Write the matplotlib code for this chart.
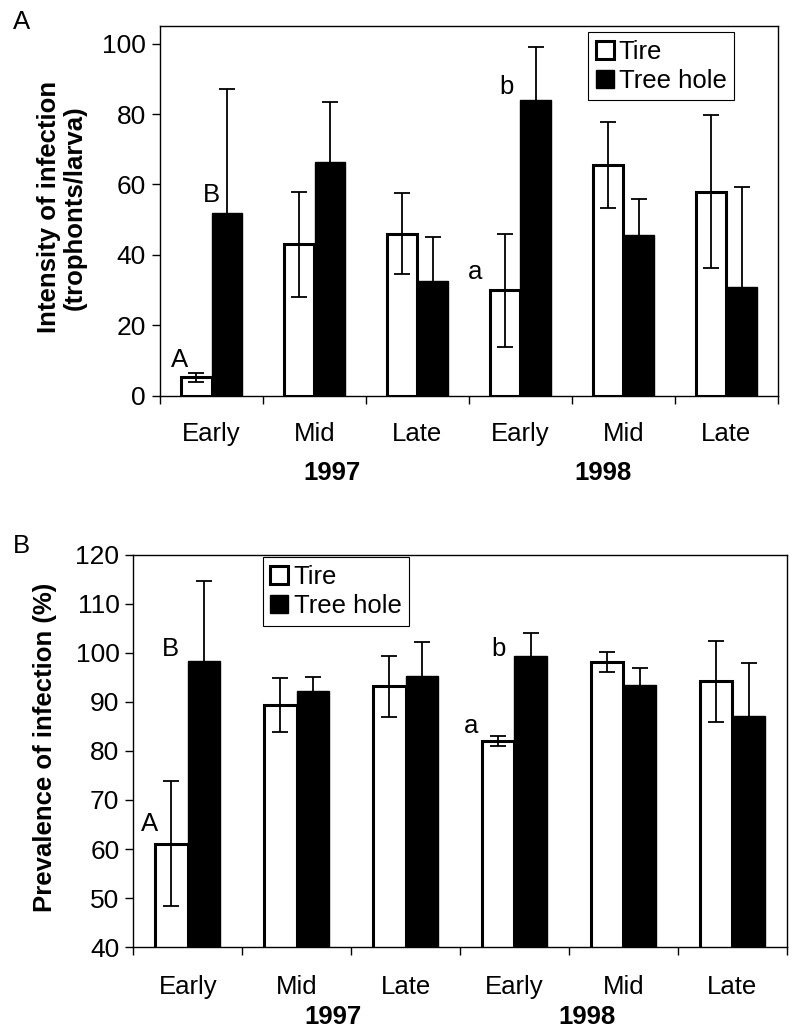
import numpy as np
import matplotlib
matplotlib.use("Agg")
import matplotlib.pyplot as plt
import matplotlib.transforms as mtransforms
from matplotlib.patches import Patch

plt.rcParams['font.family'] = ['Liberation Sans', 'DejaVu Sans']
FS = 18.5

# ─── Data ────────────────────────────────────────────────────────────────
PERIODS = ["Early", "Mid", "Late", "Early", "Mid", "Late"]
YEARS = ["1997", "1998"]
SERIES = ["Tire", "Tree hole"]

# Panel A: intensity of infection (trophonts/larva)
INT_TIRE = [5.3, 43, 46, 30, 65.5, 58]
INT_TIRE_ERR = [1.3, 15, 11.5, 16, 12.3, 21.7]
INT_TREE = [52, 66.5, 32.7, 84, 45.6, 30.8]
INT_TREE_ERR = [35, 17, 12.3, 15, 10.2, 28.5]
INT_LETTERS = ["A", "B", "a", "b"]

# Panel B: prevalence of infection (%)
PREV_TIRE = [61.1, 89.3, 93.2, 82.1, 98.2, 94.2]
PREV_TIRE_ERR = [12.7, 5.5, 6.2, 1.0, 2.0, 8.3]
PREV_TREE = [98.4, 92.2, 95.3, 99.3, 93.4, 87.2]
PREV_TREE_ERR = [16.3, 2.8, 6.9, 4.8, 3.6, 10.8]
PREV_LETTERS = ["A", "B", "a", "b"]


def draw_panel(ax, tire, tire_err, tree, tree_err, ylim, yticks, ylabel,
               letters, letter_pos, year_x, year_y, legend_anchor, ylabel_x,
               xpad):
    x = np.arange(len(PERIODS))
    w = 0.3
    ax.bar(x - w / 2, tire, w, color="white", edgecolor="black",
           linewidth=2.2, zorder=2)
    ax.bar(x + w / 2, tree, w, color="black", edgecolor="black",
           linewidth=1.0, zorder=2)
    ax.errorbar(x - w / 2, tire, yerr=tire_err, fmt="none", ecolor="black",
                elinewidth=1.3, capsize=6, capthick=1.3, zorder=3)
    ax.errorbar(x + w / 2, tree, yerr=tree_err, fmt="none", ecolor="black",
                elinewidth=1.3, capsize=6, capthick=1.3, zorder=3)

    ax.set_xlim(-0.5, len(PERIODS) - 0.5)
    ax.set_ylim(*ylim)
    ax.set_yticks(yticks)
    ax.set_xticks(x)
    ax.set_xticklabels(PERIODS, fontsize=FS)
    ax.set_xticks(np.arange(-0.5, len(PERIODS), 1), minor=True)
    ax.tick_params(axis="x", which="major", length=0, pad=xpad)
    ax.tick_params(axis="x", which="minor", length=6, width=1,
                   direction="out")
    ax.tick_params(axis="y", labelsize=FS + 0.5, length=6, width=1,
                   direction="out", pad=4)
    for s in ax.spines.values():
        s.set_linewidth(1.0)

    ax.set_ylabel(ylabel, fontsize=FS, fontweight="bold", linespacing=1.1)
    ax.yaxis.set_label_coords(ylabel_x, 0.51)

    trans = mtransforms.blended_transform_factory(ax.transData, ax.transAxes)
    for yr, xx in zip(YEARS, year_x):
        ax.text(xx, year_y, yr, transform=trans, ha="center", va="center",
                fontsize=FS, fontweight="bold")

    for lt, (lx, ly) in zip(letters, letter_pos):
        ax.text(lx, ly, lt, ha="center", va="center", fontsize=FS)

    handles = [Patch(facecolor="white", edgecolor="black", linewidth=2.2),
               Patch(facecolor="black", edgecolor="black")]
    leg = ax.legend(handles, SERIES, loc="upper left",
                    bbox_to_anchor=legend_anchor, fontsize=FS,
                    handlelength=0.7, handleheight=0.7, handletextpad=0.2,
                    labelspacing=0.2, borderpad=0.3, borderaxespad=0,
                    fancybox=False, framealpha=1, edgecolor="black")
    leg.get_frame().set_linewidth(0.8)


def main():
    fig = plt.figure(figsize=(8, 10.36), dpi=100)
    ax1 = fig.add_axes([0.2, 0.6178, 0.7725, 0.3572])
    ax2 = fig.add_axes([0.1667, 0.0859, 0.8167, 0.3784])

    draw_panel(ax1, INT_TIRE, INT_TIRE_ERR, INT_TREE, INT_TREE_ERR,
               (0, 105), range(0, 101, 20),
               "Intensity of infection\n(trophonts/larva)",
               INT_LETTERS, [(-0.31, 10.2), (0.0, 57), (2.56, 35.2), (2.86, 87.8)],
               [1.17, 3.8], -0.208, (0.6925, 0.984), -0.118, 19)

    draw_panel(ax2, PREV_TIRE, PREV_TIRE_ERR, PREV_TREE, PREV_TREE_ERR,
               (40, 120), range(40, 121, 10),
               "Prevalence of infection (%)",
               PREV_LETTERS, [(-0.35, 65.2), (-0.16, 100.9), (2.6, 85.2), (2.85, 100.9)],
               [1.33, 3.67], -0.179, (0.198, 0.995), -0.117, 20)

    fig.text(21.7 / 800, 1 - 21.7 / 1036, "A", ha="center", va="center", fontsize=FS)
    fig.text(21 / 800, 1 - 545.7 / 1036, "B", ha="center", va="center", fontsize=FS)

    fig.savefig("out.png", dpi=100)


if __name__ == "__main__":
    main()
